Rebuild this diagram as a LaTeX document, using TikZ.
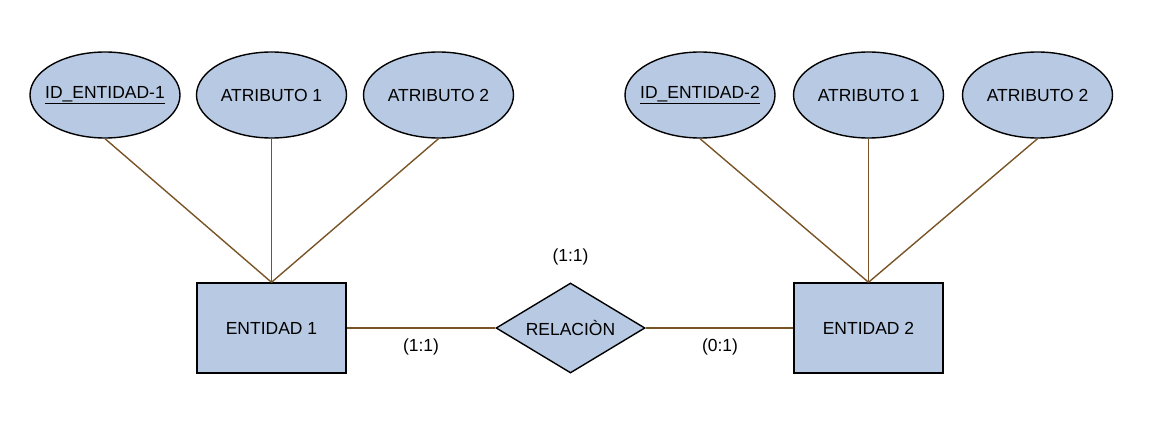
\documentclass[tikz,border=0pt]{standalone}
\usepackage{fontspec}
\setmainfont{Liberation Sans}
\usetikzlibrary{shapes.geometric}
\definecolor{fillb}{HTML}{B8CAE3}
\definecolor{linkc}{HTML}{7A5426}
\newcommand{\zw}[1]{\makebox[0pt]{#1}}
\begin{document}
\begin{tikzpicture}[x=1pt,y=-1pt,
  attr/.style={ellipse,draw=black,fill=fillb,line width=1.4pt,minimum width=150pt,minimum height=86pt,inner sep=0pt,font=\fontsize{17.5}{19}\selectfont},
  ent/.style={rectangle,draw=black,fill=fillb,line width=1.4pt,minimum width=149pt,minimum height=90pt,inner sep=0pt,font=\fontsize{17.5}{19}\selectfont},
  rel/.style={diamond,draw=black,fill=fillb,line width=1.4pt,minimum width=149pt,minimum height=90pt,inner sep=0pt,aspect=1.655,font=\fontsize{17.5}{19}\selectfont},
  link/.style={draw=linkc,line width=1.4pt},
  card/.style={font=\fontsize{17.5}{19}\selectfont,inner sep=0pt}]
\useasboundingbox (0,0) rectangle (1158,441);
\node[attr] (id1) at (105,95) {\zw{\underline{ID\_ENTIDAD-1}}};
\node[attr] (a11) at (271.5,95) {\zw{ATRIBUTO 1}};
\node[attr] (a12) at (438.5,95) {\zw{ATRIBUTO 2}};
\node[attr] (id2) at (700,95) {\zw{\underline{ID\_ENTIDAD-2}}};
\node[attr] (a21) at (868.5,95) {\zw{ATRIBUTO 1}};
\node[attr] (a22) at (1037.5,95) {\zw{ATRIBUTO 2}};
\node[ent] (e1) at (271.5,328) {ENTIDAD 1};
\node[rel] (r) at (570.5,328) {\zw{RELACIÒN}};
\node[ent] (e2) at (868.5,328) {ENTIDAD 2};
\draw[link] (id1.south) -- (e1.north);
\draw[link] (a11.south) -- (e1.north);
\draw[link] (a12.south) -- (e1.north);
\draw[link] (id2.south) -- (e2.north);
\draw[link] (a21.south) -- (e2.north);
\draw[link] (a22.south) -- (e2.north);
\draw[link] (e1.east) -- (r.west);
\draw[link] (r.east) -- (e2.west);
\node[card] (c0) at (570.5,257) {(1:1)};
\node[card] (c1) at (421,347) {(1:1)};
\node[card] (c2) at (720,347) {(0:1)};
\end{tikzpicture}
\end{document}
